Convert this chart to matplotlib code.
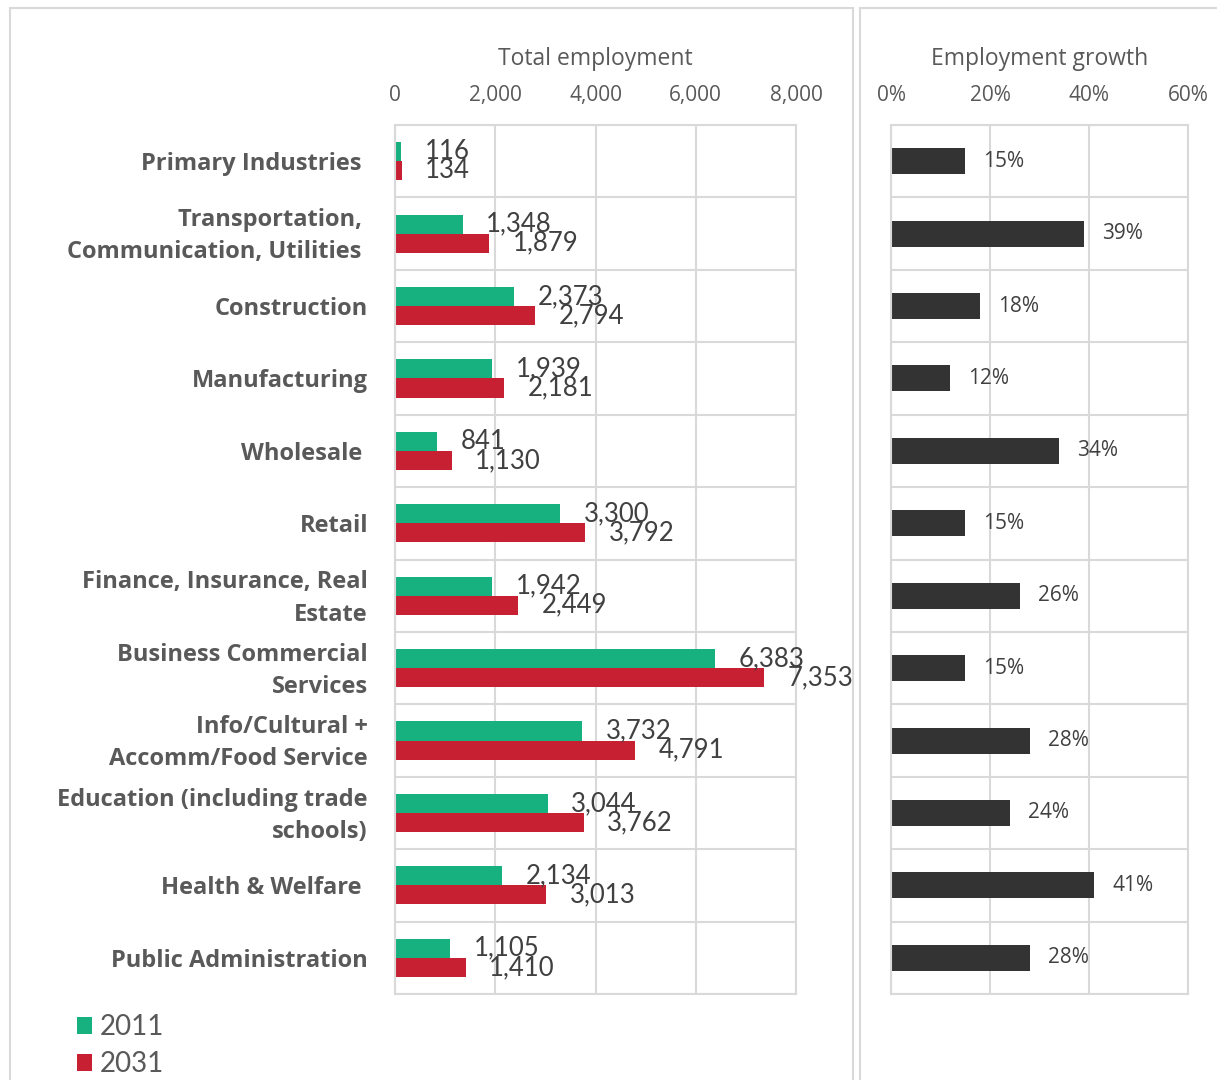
import matplotlib

matplotlib.use("Agg")
import matplotlib.pyplot as plt
from matplotlib.patches import Rectangle
from matplotlib.ticker import FuncFormatter
import numpy as np

categories = [
    "Primary Industries ",
    "Transportation, \nCommunication, Utilities ",
    "Construction",
    "Manufacturing",
    "Wholesale ",
    "Retail",
    "Finance, Insurance, Real\nEstate",
    "Business Commercial\nServices",
    "Info/Cultural +\nAccomm/Food Service",
    "Education (including trade\nschools)",
    "Health & Welfare ",
    "Public Administration",
]
employment_2011 = [116, 1348, 2373, 1939, 841, 3300, 1942, 6383, 3732, 3044, 2134, 1105]
employment_2031 = [134, 1879, 2794, 2181, 1130, 3792, 2449, 7353, 4791, 3762, 3013, 1410]
growth_pct = [15, 39, 18, 12, 34, 15, 26, 15, 28, 24, 41, 28]

employment_ticks = [0, 2000, 4000, 6000, 8000]
growth_ticks = [0, 20, 40, 60]

GREEN = "#17b07f"
RED = "#c82033"
DARK = "#333333"
GRID = "#d9d9d9"
TEXT = "#595959"
LABEL = "#404040"

W, H = 1217, 1080
fig = plt.figure(figsize=(W / 100.0, H / 100.0), dpi=100)


def px_box(x0, y0, x1, y1):
    return [x0 / W, 1 - y1 / H, (x1 - x0) / W, (y1 - y0) / H]


# panel frames
for x0, x1 in ((10, 853), (860, 1230)):
    fig.patches.append(Rectangle((x0 / W, -0.02), (x1 - x0) / W, 1 - 8 / H + 0.02,
                                 transform=fig.transFigure, fill=False,
                                 edgecolor=GRID, linewidth=1.5))


def style_axes(ax, ticks, xmax):
    ax.set_xlim(0, xmax)
    ax.set_ylim(len(categories), 0)
    ax.set_xticks(ticks)
    ax.set_yticks(np.arange(len(categories) + 1), minor=True)
    ax.set_yticks([])
    ax.xaxis.tick_top()
    ax.xaxis.set_label_position("top")
    ax.tick_params(axis="x", length=0, pad=13.5, labelsize=15, labelcolor=TEXT)
    ax.tick_params(axis="y", which="both", length=0)
    ax.grid(axis="x", color=GRID, linewidth=1.5)
    ax.grid(axis="y", which="minor", color=GRID, linewidth=1.5)
    ax.set_axisbelow(True)
    for spine in ax.spines.values():
        spine.set_color(GRID)
        spine.set_linewidth(1.5)
    for label in ax.get_xticklabels():
        label.set_family("Open Sans")


y = np.arange(len(categories)) + 0.5
bar_h = 0.263

ax = fig.add_axes(px_box(395, 125, 796, 994))
ax.barh(y - bar_h / 2, employment_2011, height=bar_h, color=GREEN, label="2011")
ax.barh(y + bar_h / 2, employment_2031, height=bar_h, color=RED, label="2031")
style_axes(ax, employment_ticks, 8000)
ax.xaxis.set_major_formatter(FuncFormatter(lambda v, p: "{:,.0f}".format(v)))
ax.set_xlabel("Total employment", fontsize=16.5, color=TEXT, family="Open Sans", labelpad=14.5)

for yy, v in zip(y - bar_h / 2, employment_2011):
    ax.annotate("{:,}".format(v), (v, yy), xytext=(17, 0), textcoords="offset points",
                va="center", ha="left", fontsize=18.5, color=LABEL, family="Lato")
for yy, v in zip(y + bar_h / 2, employment_2031):
    ax.annotate("{:,}".format(v), (v, yy), xytext=(17, 0), textcoords="offset points",
                va="center", ha="left", fontsize=18.5, color=LABEL, family="Lato")

# category names sit left of the axis, right-aligned
for yy, name in zip(y, categories):
    ax.annotate(name, (0, yy), xytext=(-19.5, -2), textcoords="offset points",
                ha="right", va="center", fontsize=17, fontweight="bold", color=TEXT,
                family="Open Sans", linespacing=1.45, annotation_clip=False)

handles, labels = ax.get_legend_handles_labels()
fig.legend(handles, labels, loc="upper left", bbox_to_anchor=(66 / W, 1 - 1003 / H),
           frameon=False, labelcolor=TEXT, handlelength=0.55,
           handleheight=0.55, handletextpad=0.25, labelspacing=0.4,
           borderaxespad=0, prop={"family": "Lato", "size": 20})

ax2 = fig.add_axes(px_box(891, 125, 1188, 994))
ax2.barh(y, growth_pct, height=0.36, color=DARK)
style_axes(ax2, growth_ticks, 60)
ax2.xaxis.set_major_formatter(FuncFormatter(lambda v, p: "{:.0f}%".format(v)))
ax2.set_xlabel("Employment growth", fontsize=16.5, color=TEXT, family="Open Sans", labelpad=14.5)
for yy, v in zip(y, growth_pct):
    ax2.annotate("{}%".format(v), (v, yy), xytext=(13, 0), textcoords="offset points",
                 va="center", ha="left", fontsize=15, color=LABEL, family="Open Sans")

fig.savefig("out.png", dpi=100)
